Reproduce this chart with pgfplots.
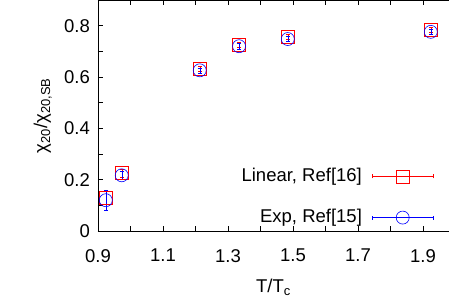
\documentclass[border=0pt]{standalone}
\usepackage{fontspec}
\setmainfont{Liberation Sans}
\usepackage{pgfplots}
\pgfplotsset{compat=1.18}
\begin{document}
\fontsize{18}{21}\selectfont
\begin{tikzpicture}
\path[use as bounding box] (-98pt,-71pt) rectangle (351pt,231pt);
\begin{axis}[
  scale only axis, width=351pt, height=231pt,
  xmin=0.9, xmax=1.98, ymin=0, ymax=0.9,
  axis x line*=box, axis y line*=left,
  tick align=inside,
  xtick={0.9,1.1,1.3,1.5,1.7,1.9},
  minor xtick={1.0,1.2,1.4,1.6,1.8},
  ytick={0,0.2,0.4,0.6,0.8},
  minor ytick={0.1,0.3,0.5,0.7},
  xticklabels={0.9,1.1,1.3,1.5,1.7,1.9},
  yticklabels={0,0.2,0.4,0.6,0.8},
  major tick length=5pt, minor tick length=5pt,
  tick style={black, line width=0.6pt},
  axis line style={line width=0.8pt},
  /pgf/number format/assume math mode=true,
  ticklabel style={font=\fontsize{18.5}{21}\selectfont},
  xticklabel style={yshift=-12pt},
  yticklabel style={xshift=-2pt},
  label style={font=\fontsize{18.5}{21}\selectfont},
  xlabel={T/T\textsubscript{c}},
  ylabel={χ\textsubscript{20}/χ\textsubscript{20,SB}},
  xlabel style={yshift=-5pt},
  legend plot pos=right,
  legend cell align=right,
  legend style={draw=none, fill=none, at={(0.965,0.005)}, anchor=south east,
    font=\fontsize{18.5}{21}\selectfont, row sep=21pt},
  error bars/y dir=both, error bars/y explicit,
]
\addplot[red, line width=0.6pt, only marks, mark=square, mark size=6.5pt,
  error bars/error mark options={rotate=90, red, mark size=2pt},
  legend image code/.code={
    \path (0pt,0pt);
    \draw[red, line width=0.6pt] (8pt,-2pt)--(8pt,2pt) (8pt,0pt)--(69pt,0pt) (69pt,-2pt)--(69pt,2pt);
    \draw[red, line width=0.6pt] plot[mark=square, mark size=6.5pt] coordinates {(38.5pt,0pt)};
  }]
  coordinates {
  (0.924,0.130) +- (0,0.025)
  (0.973,0.225) +- (0,0.015)
  (1.213,0.632) +- (0,0.010)
  (1.334,0.727) +- (0,0.010)
  (1.484,0.757) +- (0,0.010)
  (1.924,0.783) +- (0,0.010)
  };
\addlegendentry{Linear, Ref[16]}
\addplot[blue, line width=0.6pt, only marks, mark=o, mark size=6.5pt,
  error bars/error mark options={rotate=90, blue, mark size=2pt},
  legend image code/.code={
    \path (0pt,0pt);
    \draw[blue, line width=0.6pt] (8pt,-2pt)--(8pt,2pt) (8pt,0pt)--(69pt,0pt) (69pt,-2pt)--(69pt,2pt);
    \draw[blue, line width=0.6pt] plot[mark=o, mark size=6.5pt] coordinates {(38.5pt,0pt)};
  }]
  coordinates {
  (0.924,0.120) +- (0,0.040)
  (0.973,0.217) +- (0,0.015)
  (1.213,0.626) +- (0,0.010)
  (1.334,0.720) +- (0,0.010)
  (1.484,0.748) +- (0,0.010)
  (1.924,0.776) +- (0,0.010)
  };
\addlegendentry{Exp, Ref[15]}
\end{axis}
\end{tikzpicture}
\end{document}
